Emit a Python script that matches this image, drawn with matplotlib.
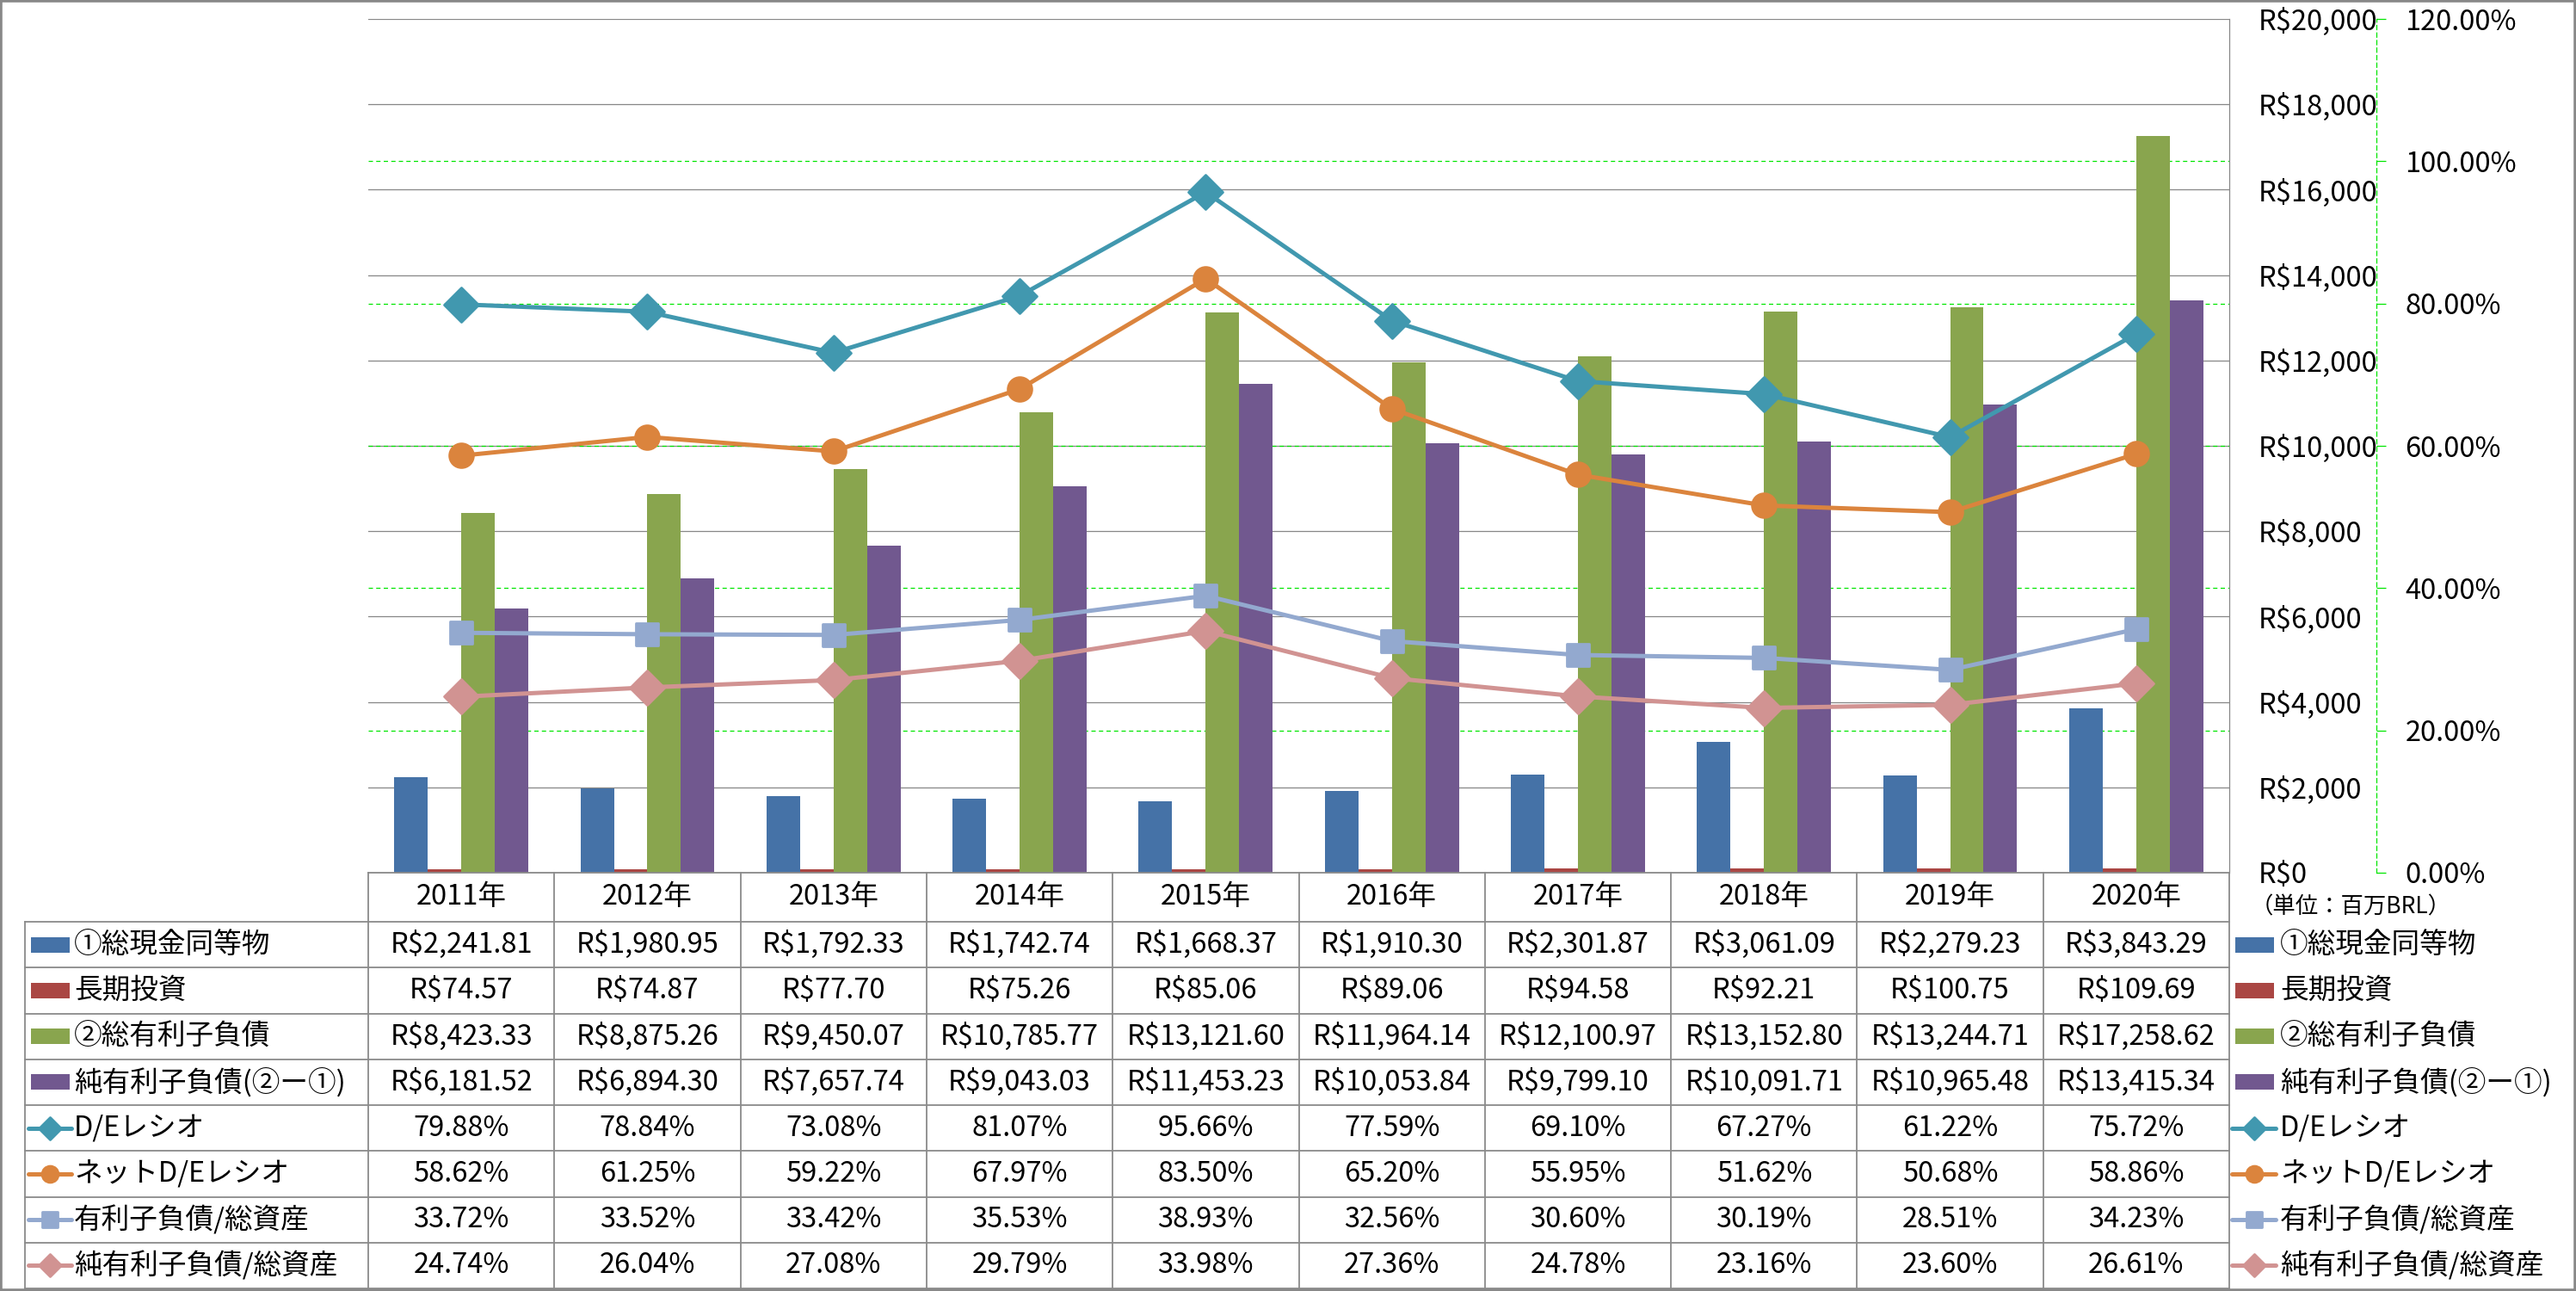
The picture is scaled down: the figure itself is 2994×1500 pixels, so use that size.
import numpy as np
import matplotlib
matplotlib.use('Agg')
import matplotlib.pyplot as plt
from matplotlib.lines import Line2D
from matplotlib.patches import Rectangle
from matplotlib.markers import MarkerStyle
import matplotlib.transforms as mtransforms
from matplotlib.ticker import FuncFormatter, MultipleLocator

plt.rcParams['font.family'] = ['Noto Sans CJK JP', 'DejaVu Sans']

# ---------------- data ----------------
years = ["2011年", "2012年", "2013年", "2014年", "2015年",
         "2016年", "2017年", "2018年", "2019年", "2020年"]
cash = [2241.81, 1980.95, 1792.33, 1742.74, 1668.37, 1910.30, 2301.87, 3061.09, 2279.23, 3843.29]
lt_invest = [74.57, 74.87, 77.70, 75.26, 85.06, 89.06, 94.58, 92.21, 100.75, 109.69]
total_debt = [8423.33, 8875.26, 9450.07, 10785.77, 13121.60, 11964.14, 12100.97, 13152.80, 13244.71, 17258.62]
net_debt = [6181.52, 6894.30, 7657.74, 9043.03, 11453.23, 10053.84, 9799.10, 10091.71, 10965.48, 13415.34]
de_ratio = [79.88, 78.84, 73.08, 81.07, 95.66, 77.59, 69.10, 67.27, 61.22, 75.72]
net_de_ratio = [58.62, 61.25, 59.22, 67.97, 83.50, 65.20, 55.95, 51.62, 50.68, 58.86]
debt_to_assets = [33.72, 33.52, 33.42, 35.53, 38.93, 32.56, 30.60, 30.19, 28.51, 34.23]
netdebt_to_assets = [24.74, 26.04, 27.08, 29.79, 33.98, 27.36, 24.78, 23.16, 23.60, 26.61]

bar_labels = ["①総現金同等物", "長期投資", "②総有利子負債", "純有利子負債(②ー①)"]
line_labels = ["D/Eレシオ", "ネットD/Eレシオ", "有利子負債/総資産", "純有利子負債/総資産"]
unit_label = "（単位：百万BRL）"

Y_MAX = 20000
Y_STEP = 2000
P_MAX = 120
P_STEP = 20

# ---------------- styles ----------------
bar_colors = ['#4572A7', '#AA4643', '#89A54E', '#71588F']
line_colors = ['#4198AF', '#DB843D', '#93A9CF', '#D19392']
line_markers = ['D', 'o', 's', 'D']
line_ms = [20, 20, 19, 20]
GRID_GRAY = '#878787'
GREEN = '#00E600'
FS = 23.5

W, H = 2994, 1500
fig = plt.figure(figsize=(W / 100, H / 100), dpi=100)

def fx(px):
    return px / W

def fy(py):
    return 1 - py / H

PL, PR, PT, PB = 428, 2591, 22, 1014
ax = fig.add_axes([fx(PL), fy(PB), (PR - PL) / W, (PB - PT) / H])

n = len(years)
x = np.arange(n)
bw = 0.18
offsets = [-1.5, -0.5, 0.5, 1.5]
bar_series = [cash, lt_invest, total_debt, net_debt]
for vals, off, c in zip(bar_series, offsets, bar_colors):
    ax.bar(x + off * bw, vals, bw, color=c, zorder=2, linewidth=0)

# secondary axis
ax2 = ax.twinx()

ax.set_xlim(-0.5, n - 0.5)
ax.set_ylim(0, Y_MAX)
ax.set_xticks([])
ax.yaxis.set_major_locator(MultipleLocator(Y_STEP))
ax.yaxis.tick_right()
ax.yaxis.set_major_formatter(FuncFormatter(lambda v, _: f"R${v:,.0f}"))
ax.tick_params(axis='y', length=0, pad=24, labelsize=FS, left=False, labelleft=False,
               right=True, labelright=True)
ax.set_axisbelow(True)
ax.grid(axis='y', color=GRID_GRAY, lw=0.9, zorder=0)
for s in ['left', 'top', 'bottom']:
    ax.spines[s].set_visible(False)
ax.spines['right'].set_color(GRID_GRAY)
ax.spines['right'].set_linewidth(0.9)

ax2.set_ylim(0, P_MAX)
ax2.yaxis.set_major_locator(MultipleLocator(P_STEP))
ax2.yaxis.set_major_formatter(FuncFormatter(lambda v, _: f"{v:.2f}%"))
ax2.tick_params(axis='y', direction='out', length=8, width=0.9, color=GREEN,
                pad=16, labelsize=FS)
for s in ['left', 'top', 'bottom']:
    ax2.spines[s].set_visible(False)
ax2.spines['right'].set_position(('axes', (2762 - PL) / (PR - PL)))
ax2.spines['right'].set_color(GREEN)
ax2.spines['right'].set_linestyle((0, (4, 3)))
ax2.spines['right'].set_linewidth(0.9)

# secondary gridlines (drawn on primary so that bars cover them)
for t in np.arange(P_STEP, P_MAX, P_STEP):
    ax.axhline(t / P_MAX * Y_MAX, color=GREEN, lw=0.9, ls=(0, (4, 3)), zorder=1)

line_series = [de_ratio, net_de_ratio, debt_to_assets, netdebt_to_assets]
for vals, c, m, ms in zip(line_series, line_colors, line_markers, line_ms):
    ax2.plot(x, vals, color=c, lw=3.6, marker=MarkerStyle(m, joinstyle='round'),
             ms=ms, mfc=c, mec=c, mew=2, zorder=3, solid_joinstyle='round')

# ---------------- data table ----------------
trans = mtransforms.blended_transform_factory(ax.transData, fig.transFigure)
TBL_L = 29
HDR_B = 1071
ROW_H = 53.25
TBL_B = HDR_B + 8 * ROW_H
LC = '#8a8a8a'
LW = 1.3

fig.add_artist(Line2D([fx(PL), fx(PR)], [fy(PB), fy(PB)], color=LC, lw=LW))
for k in range(0, 9):
    yy = HDR_B + k * ROW_H
    fig.add_artist(Line2D([fx(TBL_L), fx(PR)], [fy(yy), fy(yy)], color=LC, lw=LW))
fig.add_artist(Line2D([fx(TBL_L), fx(TBL_L)], [fy(HDR_B), fy(TBL_B)], color=LC, lw=LW))
for k in range(n + 1):
    fig.add_artist(Line2D([k - 0.5, k - 0.5], [fy(PB), fy(TBL_B)], color=LC, lw=LW,
                          transform=trans))

for i, yr in enumerate(years):
    fig.text(i, fy((PB + HDR_B) / 2), yr, transform=trans, ha='center', va='center',
             fontsize=FS)

rows = []
for lab, vals, c in zip(bar_labels, bar_series, bar_colors):
    rows.append((lab, [f"R${v:,.2f}" for v in vals], 'bar', c, None, None))
for lab, vals, c, m, ms in zip(line_labels, line_series, line_colors, line_markers, line_ms):
    rows.append((lab, [f"{v:.2f}%" for v in vals], 'line', c, m, ms))

def draw_key(x0, x1, yc, kind, c, m, ms):
    if kind == 'bar':
        fig.add_artist(Rectangle((fx(x0), fy(yc + 9)), (x1 - x0) / W, 18 / H,
                                 transform=fig.transFigure, color=c, lw=0))
    else:
        fig.add_artist(Line2D([fx(x0), fx(x1)], [fy(yc), fy(yc)], color=c, lw=3.6,
                              solid_capstyle='round'))
        fig.add_artist(Line2D([fx((x0 + x1) / 2)], [fy(yc)], color=c, lw=0,
                              marker=MarkerStyle(m, joinstyle='round'),
                              ms=ms * 0.68, mfc=c, mec=c, mew=2))

for r, (lab, cells, kind, c, m, ms) in enumerate(rows):
    yc = HDR_B + (r + 0.5) * ROW_H
    if kind == 'bar':
        draw_key(36, 81, yc, kind, c, m, ms)
        draw_key(2598, 2643, yc, kind, c, m, ms)
    else:
        draw_key(33, 83, yc, kind, c, m, ms)
        draw_key(2594, 2645, yc, kind, c, m, ms)
    fig.text(fx(86), fy(yc), lab, ha='left', va='center', fontsize=FS)
    fig.text(fx(2650), fy(yc), lab, ha='left', va='center', fontsize=FS)
    for i, s in enumerate(cells):
        fig.text(i, fy(yc), s, transform=trans, ha='center', va='center', fontsize=FS)

fig.text(fx(2616), fy(1054), unit_label, ha='left', va='center', fontsize=19)

fig.add_artist(Rectangle((0, 0), 1, 1, transform=fig.transFigure, fill=False,
                         edgecolor='#888888', lw=4))

fig.savefig('out.png', dpi=100)
